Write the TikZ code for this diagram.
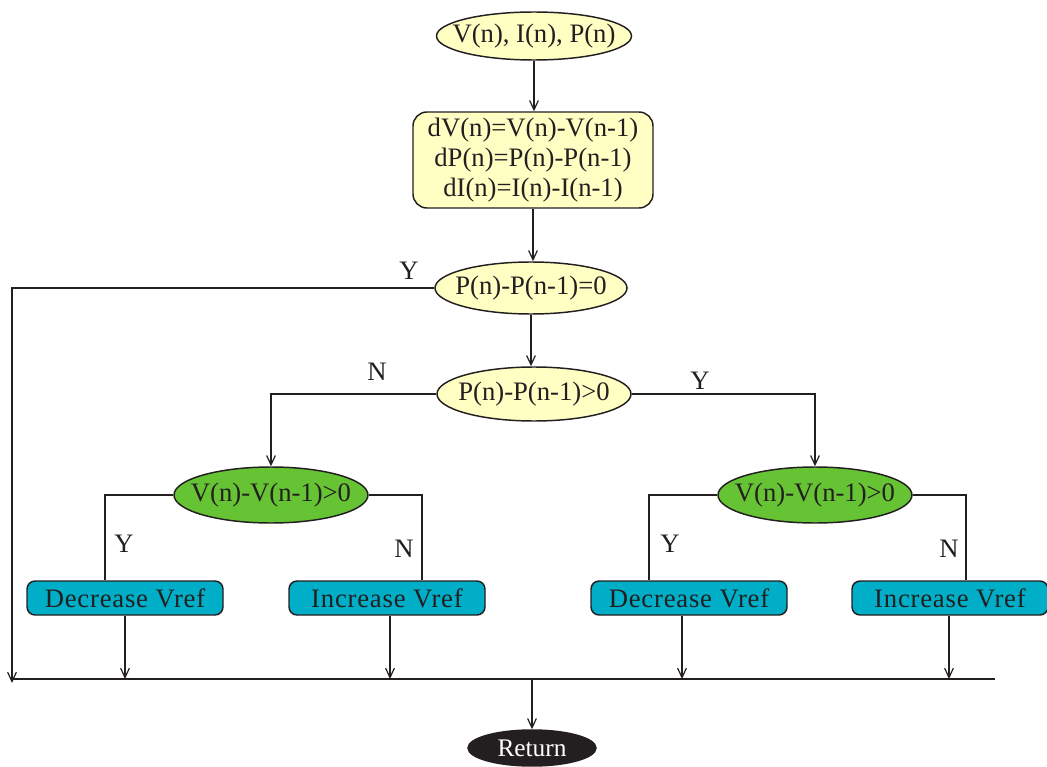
\documentclass[tikz,border=0pt]{standalone}
\usepackage{fontspec}
\setmainfont{Liberation Serif}
\usetikzlibrary{shapes.geometric,arrows.meta,calc}
\definecolor{lineC}{HTML}{231F20}
\definecolor{yel}{HTML}{FFFFC4}
\definecolor{grn}{HTML}{66C334}
\definecolor{tealC}{HTML}{00AEC7}
\definecolor{blk}{HTML}{231F20}
\begin{document}
\begin{tikzpicture}[x=0.75pt,y=-0.75pt,
  font=\fontsize{20}{22.5}\selectfont, color=lineC, line width=1.1pt,
  arr/.style={-{Straight Barb[length=7pt,width=6.5pt,line width=0.9pt]}},
  ell/.style={ellipse, draw=lineC, fill=yel, inner sep=0pt},
  gell/.style={ellipse, draw=lineC, fill=grn, inner sep=0pt, minimum width=145.5pt, minimum height=42pt},
  actbox/.style={rectangle, draw=lineC, fill=tealC, rounded corners=6pt, minimum width=147pt, minimum height=25.5pt, inner sep=0pt,
    font=\fontsize{20}{22.5}\selectfont\addfontfeature{LetterSpace=3}},
  lbl/.style={inner sep=0pt}]
\useasboundingbox (0,0) rectangle (1047,767);

% nodes
\node[ell, minimum width=146.25pt, minimum height=36pt, label=center:{V(n), I(n), P(n)}] (top) at (534,36) {};
\node[draw=lineC, fill=yel, rounded corners=10.5pt, minimum width=180pt, minimum height=72pt, align=center, inner sep=0pt] (box) at (533,160)
  {dV(n)=V(n)-V(n-1)\\dP(n)=P(n)-P(n-1)\\dI(n)=I(n)-I(n-1)};
\node[ell, minimum width=144pt, minimum height=39pt, label=center:{P(n)-P(n-1)=0}] (e3) at (531,288) {};
\node[ell, minimum width=145.5pt, minimum height=40.5pt, label=center:{P(n)-P(n-1)>0}] (e4) at (534,394) {};
\node[gell, label=center:{V(n)-V(n-1)>0}] (gl) at (271,495) {};
\node[gell, label=center:{V(n)-V(n-1)>0}] (gr) at (815,495) {};
\node[actbox] (d1) at (125,598) {Decrease Vref};
\node[actbox] (i1) at (387,598) {Increase Vref};
\node[actbox] (d2) at (689,598) {Decrease Vref};
\node[actbox] (i2) at (950,598) {Increase Vref};
\node[ellipse, fill=blk, draw=blk, inner sep=0pt, minimum width=96pt, minimum height=27pt,
      label={[text=white, font=\fontsize{19}{20}\selectfont]center:Return}] (ret) at (532,748) {};

% labels
\node[lbl] (ly1) at (409,271) {Y};
\node[lbl] (ln1) at (377,372) {N};
\node[lbl] (ly2) at (700,381) {Y};
\node[lbl] (ly3) at (124,544) {Y};
\node[lbl] (ln3) at (404,549) {N};
\node[lbl] (ly4) at (670,544) {Y};
\node[lbl] (ln4) at (949,549) {N};

% coordinates
\coordinate (lc) at (12,288);
\coordinate (lb) at (12,683);
\coordinate (bus) at (0,679);
\coordinate (busL) at (12,679);
\coordinate (busR) at (995,679);
\coordinate (d1t) at ($(d1.north)+(-20,0)$);
\coordinate (i1t) at ($(i1.north)+(35,0)$);
\coordinate (d2t) at ($(d2.north)+(-40,0)$);
\coordinate (i2t) at ($(i2.north)+(16,0)$);
\coordinate (d1b) at (d1.south);
\coordinate (i1b) at ($(i1.south)+(3,0)$);
\coordinate (d2b) at ($(d2.south)+(-7,0)$);
\coordinate (i2b) at ($(i2.south)+(-1,0)$);

% connectors
\draw[arr] (top.south) -- (top.south |- box.north);
\draw[arr] (box.south) -- (box.south |- e3.north);
\draw[arr] (e3.west) -- (lc) -- (lb);
\draw[arr] (e3.south) -- (e3.south |- e4.north);
\draw[arr] (e4.west) -| (gl.north);
\draw[arr] (e4.east) -| (gr.north);
\draw (gl.west) -| (d1t);
\draw (gl.east) -| (i1t);
\draw (gr.west) -| (d2t);
\draw (gr.east) -| (i2t);
\draw[arr] (d1b) -- (d1b |- bus);
\draw[arr] (i1b) -- (i1b |- bus);
\draw[arr] (d2b) -- (d2b |- bus);
\draw[arr] (i2b) -- (i2b |- bus);
\draw[line width=1.6pt] (busL) -- (busR);
\draw[arr] (ret |- bus) -- (ret.north);
\end{tikzpicture}
\end{document}
